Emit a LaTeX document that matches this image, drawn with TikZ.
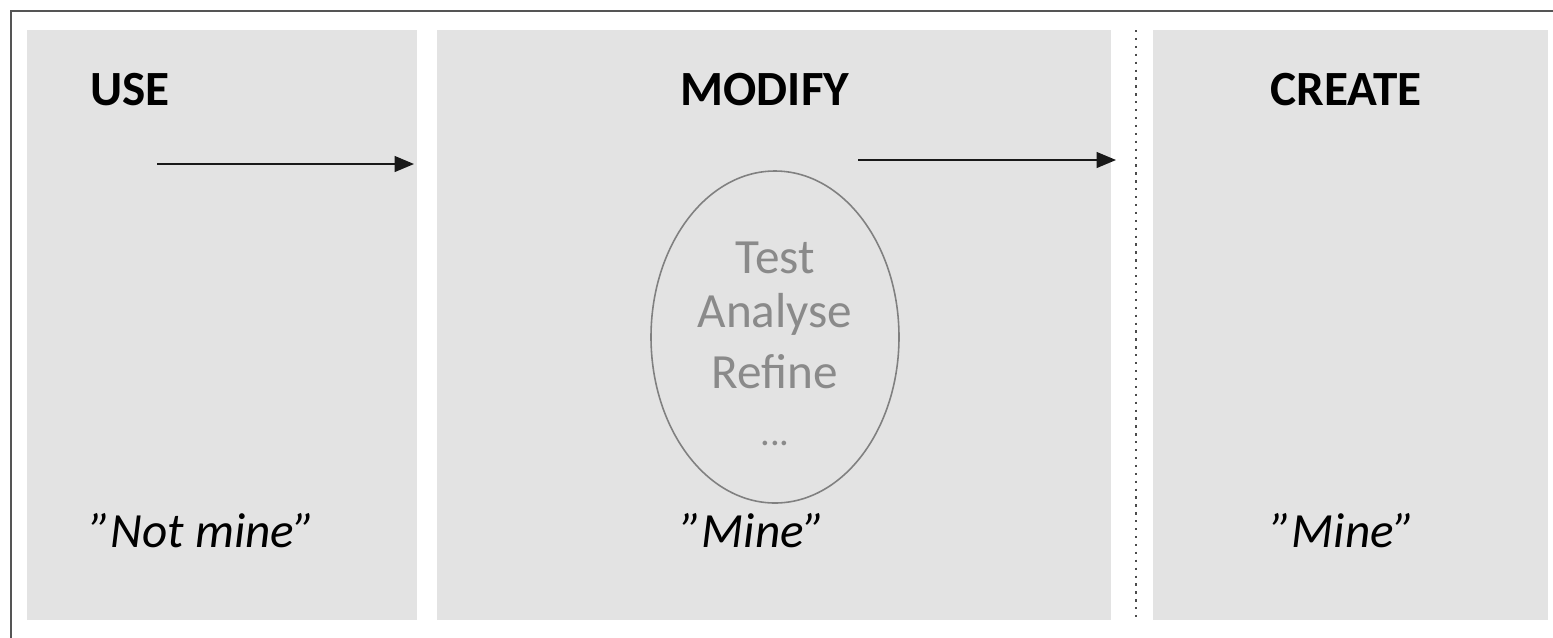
\documentclass[tikz,border=0pt]{standalone}
\usepackage{fontspec}
\setmainfont{Carlito}
\usetikzlibrary{arrows.meta,shapes.geometric}
\definecolor{panel}{HTML}{E3E3E3}
\definecolor{frame}{HTML}{555555}
\definecolor{ringtext}{HTML}{8A8A8A}
\newlength{\px}
\setlength{\px}{0.02cm}
\tikzset{
  panelbox/.style={fill=panel, draw=none, inner sep=0pt, anchor=north west},
  heading/.style={font=\fontsize{28}{32}\selectfont\bfseries, text=black, inner sep=0pt},
  quote/.style={font=\fontsize{28}{32}\selectfont\itshape, text=black, inner sep=0pt},
  ringlabel/.style={font=\fontsize{28}{32}\selectfont, text=ringtext, inner sep=0pt},
  flow/.style={draw=black!90, line width=0.9pt, -{Triangle[length=11pt,width=9pt]}},
  ring/.style={ellipse, draw=black!50, line width=0.9pt, minimum width=248\px, minimum height=332\px, inner sep=0pt},
}
\begin{document}
\begin{tikzpicture}[x=0.02cm,y=-0.02cm]
\useasboundingbox (0,0) rectangle (1553,637);
\fill[white] (0,0) rectangle (1553,637);
% outer frame (right and bottom outside the picture)
\draw[frame, line width=1.3pt] (11,700) -- (11,11) -- (1600,11);
% panels
\node[panelbox, minimum width=390\px, minimum height=590\px] (usep) at (27,30) {};
\node[panelbox, minimum width=674\px, minimum height=590\px] (modp) at (437,30) {};
\node[panelbox, minimum width=395\px, minimum height=590\px] (crep) at (1153,30) {};
% dotted separator
\coordinate (septop) at (1136,30);
\coordinate (sepbot) at (1136,620);
\draw[black!70, line width=1.2pt, dash pattern=on 1.3pt off 3.2pt] (septop) -- (sepbot);
% headings
\node[heading, anchor=west] (use) at (90,90) {USE};
\node[heading] (modify) at (765,90) {MODIFY};
\node[heading] (create) at (1346,90) {CREATE};
% ellipse and its lines
\node[ring] (cycle) at (775,337) {};
\node[ringlabel] (test) at (775,258) {Test};
\node[ringlabel] (analyse) at (775,314) {Analyse};
\node[ringlabel] (refine) at (775,372) {Refine};
\node[ringlabel, font=\fontsize{22}{24}\selectfont] (dots) at (775,443) {...};
% quotes
\node[quote, anchor=west] (notmine) at (90,531) {”Not mine”};
\node[quote] (mine1) at (753,531) {”Mine”};
\node[quote] (mine2) at (1343,531) {”Mine”};
% arrows
\coordinate (a1s) at (157,164);
\coordinate (a1e) at (414,164);
\coordinate (a2s) at (858,160);
\coordinate (a2e) at (1116,160);
\draw[flow] (a1s) -- (a1e);
\draw[flow] (a2s) -- (a2e);
\end{tikzpicture}
\end{document}
